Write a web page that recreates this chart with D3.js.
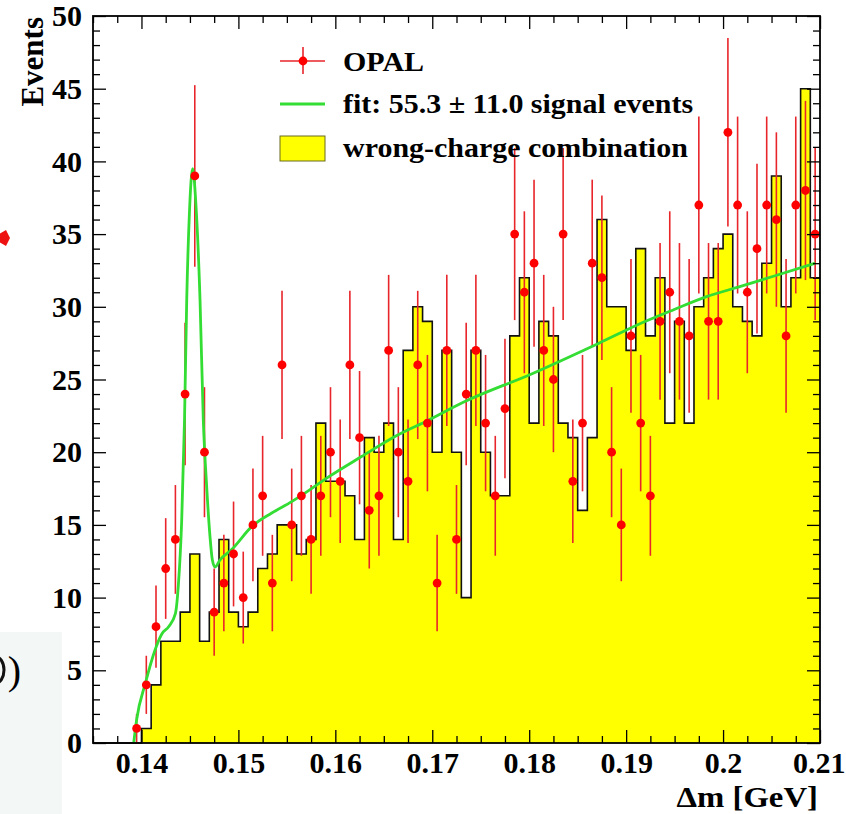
<!DOCTYPE html>
<html lang="en">
<head>
<meta charset="UTF-8">
<title>OPAL delta m</title>
<script src="https://d3js.org/d3.v7.min.js"></script>
<style>
  body { margin: 0; background: white; }
  svg { display: block; overflow: hidden; }
  text { font-family: "Liberation Serif", "Times New Roman", serif; font-weight: bold; fill: black; }
</style>
</head>
<body>
<svg width="846" height="814"></svg>
<script>
// histogram binning (GeV)
const binLow = 0.135, binWidth = 0.001;

// wrong-charge combination, one value per bin
const wrongCharge = [0, 0, 0, 0, 0, 1, 4, 7, 7, 9,
  13, 7, 9, 14, 9, 8, 9, 12, 13, 15,
  15, 13, 14, 22, 18, 18, 17, 14, 21, 20,
  22, 14, 27, 30, 29, 20, 27, 20, 10, 27,
  20, 17, 17, 28, 32, 22, 29, 28, 22, 21,
  16, 21, 36, 30, 30, 27, 34, 28, 32, 22,
  29, 22, 30, 32, 34, 35, 30, 29, 28, 33,
  39, 30, 32, 45, 32];

// OPAL data, one value per bin
const opal = [0, 0, 0, 0, 1, 4, 8, 12, 14, 24,
  39, 20, 9, 11, 13, 10, 15, 17, 11, 26,
  15, 17, 14, 17, 20, 18, 26, 21, 16, 17,
  27, 20, 18, 26, 22, 11, 27, 14, 24, 27,
  22, 17, 23, 35, 31, 33, 27, 25, 35, 18,
  22, 33, 32, 20, 15, 28, 22, 17, 29, 31,
  29, 28, 37, 29, 29, 42, 37, 31, 34, 37,
  36, 28, 37, 38, 35];

// fit curve, points
const fitX = [0.1392, 0.1395, 0.1404, 0.1414, 0.1421, 0.1428, 0.1435, 0.1438, 0.14415, 0.14444,
  0.14467, 0.14495, 0.14528, 0.14562, 0.14604, 0.14638, 0.14673, 0.14707, 0.14731, 0.14759,
  0.14811, 0.1493, 0.1514, 0.1534, 0.1555, 0.1569, 0.1593, 0.1627, 0.1662, 0.1696,
  0.1731, 0.1803, 0.1872, 0.1920, 0.1949, 0.1983, 0.2018, 0.2052, 0.2095];
const fitY = [0, 1.6, 4.1, 6.4, 7.5, 8.0, 8.9, 10.8, 15.3, 22.2,
  30.5, 36.5, 39.5, 37.0, 30.5, 22.2, 17.6, 14.2, 12.6, 12.1,
  12.6, 13.3, 14.9, 15.8, 16.6, 17.2, 18.3, 19.7, 21.1, 22.2,
  23.4, 25.4, 27.5, 29.0, 29.8, 30.7, 31.4, 32.1, 33.0];

const xTicks = [0.14, 0.15, 0.16, 0.17, 0.18, 0.19, 0.20, 0.21];
const xTickLabels = ["0.14", "0.15", "0.16", "0.17", "0.18", "0.19", "0.2", "0.21"];
const yTicks = [0, 5, 10, 15, 20, 25, 30, 35, 40, 45, 50];

const legendLabels = ["OPAL", "fit: 55.3 \u00b1 11.0 signal events", "wrong-charge combination"];

const svg = d3.select("svg");
const plotL = 93, plotR = 820, plotT = 16, plotB = 743;

const x = d3.scaleLinear().domain([0.135, 0.21]).range([plotL, plotR]);
const y = d3.scaleLinear().domain([0, 50]).range([plotB, plotT]);

// slide leftovers around the plot
svg.append("rect").attr("x", 0).attr("y", 632).attr("width", 62).attr("height", 182)
  .attr("fill", "#f3f7f5");
svg.append("ellipse").attr("cx", -5).attr("cy", 670).attr("rx", 9).attr("ry", 13.5)
  .attr("fill", "none").attr("stroke", "#111").attr("stroke-width", 3);
svg.append("text").attr("x", 21).attr("y", 684).attr("text-anchor", "end")
  .style("font-weight", "normal").style("font-size", "40px").text(")");
svg.append("path").attr("d", "M-8,238 L6,230 L10,238 L6,246 Z").attr("fill", "#ee1111");

// histogram
const bins = wrongCharge.map((v, i) => ({ lo: binLow + i * binWidth, v: v }));
const steps = bins.concat([{ lo: binLow + bins.length * binWidth, v: wrongCharge[wrongCharge.length - 1] }]);

svg.append("path")
  .datum(steps)
  .attr("fill", "#ffff00")
  .attr("d", d3.area().curve(d3.curveStepAfter).x(d => x(d.lo)).y0(y(0)).y1(d => y(d.v)));

svg.append("path")
  .datum(steps)
  .attr("fill", "none")
  .attr("stroke", "#111")
  .attr("stroke-width", 1.6)
  .attr("d", d3.line().curve(d3.curveStepAfter).x(d => x(d.lo)).y(d => y(d.v)));

// data points with sqrt(N) errors
const pts = opal.map((v, i) => ({ c: binLow + (i + 0.5) * binWidth, v: v })).filter(d => d.v > 0);

svg.append("g").selectAll("line")
  .data(pts).join("line")
  .attr("x1", d => x(d.c)).attr("x2", d => x(d.c))
  .attr("y1", d => y(d.v + Math.sqrt(d.v))).attr("y2", d => y(Math.max(0, d.v - Math.sqrt(d.v))))
  .attr("stroke", "#e8252a").attr("stroke-width", 1.6);

// fit
svg.append("path")
  .datum(fitX.map((v, i) => [v, fitY[i]]))
  .attr("fill", "none")
  .attr("stroke", "#33dd33")
  .attr("stroke-width", 2.8)
  .attr("d", d3.line().curve(d3.curveMonotoneX).x(d => x(d[0])).y(d => y(d[1])));

svg.append("g").selectAll("circle")
  .data(pts).join("circle")
  .attr("cx", d => x(d.c)).attr("cy", d => y(d.v))
  .attr("r", 4.4).attr("fill", "#ff0000");

// axes, ticks pointing inward like ROOT
const xMinor = d3.range(0.135, 0.2101, 0.0025).filter(t => !xTicks.some(m => Math.abs(m - t) < 1e-6));
const yMinor = d3.range(0, 51).filter(t => t % 5 !== 0);

function styleAxis(g) {
  g.attr("font-family", null).attr("font-size", null);
  g.select(".domain").remove();
  g.selectAll(".tick line").attr("stroke", "#000").attr("stroke-width", 1.3);
  g.selectAll(".tick text").style("font-size", "30px").attr("fill", "#000");
}

const xAxisG = svg.append("g").attr("transform", `translate(0,${plotB})`)
  .call(d3.axisBottom(x).tickValues(xTicks).tickFormat((d, i) => xTickLabels[i]).tickSize(-13).tickPadding(9))
  .call(styleAxis);
// keep the last label inside the page
xAxisG.selectAll(".tick text").filter((d, i) => i === xTicks.length - 1)
  .attr("text-anchor", "end").attr("x", 845 - plotR);

svg.append("g").attr("transform", `translate(0,${plotB})`)
  .call(d3.axisBottom(x).tickValues(xMinor).tickFormat("").tickSize(-7)).call(styleAxis);
svg.append("g").attr("transform", `translate(0,${plotT})`)
  .call(d3.axisTop(x).tickValues(xTicks).tickFormat("").tickSize(-13)).call(styleAxis);
svg.append("g").attr("transform", `translate(0,${plotT})`)
  .call(d3.axisTop(x).tickValues(xMinor).tickFormat("").tickSize(-7)).call(styleAxis);

svg.append("g").attr("transform", `translate(${plotL},0)`)
  .call(d3.axisLeft(y).tickValues(yTicks).tickSize(-13).tickPadding(11))
  .call(styleAxis);
svg.append("g").attr("transform", `translate(${plotL},0)`)
  .call(d3.axisLeft(y).tickValues(yMinor).tickFormat("").tickSize(-7)).call(styleAxis);
svg.append("g").attr("transform", `translate(${plotR},0)`)
  .call(d3.axisRight(y).tickValues(yTicks).tickFormat("").tickSize(-13)).call(styleAxis);
svg.append("g").attr("transform", `translate(${plotR},0)`)
  .call(d3.axisRight(y).tickValues(yMinor).tickFormat("").tickSize(-7)).call(styleAxis);

svg.append("rect")
  .attr("x", plotL).attr("y", plotT).attr("width", plotR - plotL).attr("height", plotB - plotT)
  .attr("fill", "none").attr("stroke", "#000").attr("stroke-width", 1.8);

// axis titles
svg.append("text").attr("transform", "translate(818,807) scale(1.13,1)").attr("text-anchor", "end")
  .style("font-size", "29px").text("\u0394m [GeV]");
svg.append("text").attr("transform", "translate(43,17) rotate(-90)").attr("text-anchor", "end")
  .style("font-size", "31px").text("Events");

// legend
const lg = svg.append("g");
lg.append("line").attr("x1", 280).attr("x2", 325).attr("y1", 61).attr("y2", 61)
  .attr("stroke", "#e8252a").attr("stroke-width", 1.6);
lg.append("line").attr("x1", 303).attr("x2", 303).attr("y1", 47).attr("y2", 74)
  .attr("stroke", "#e8252a").attr("stroke-width", 1.6);
lg.append("circle").attr("cx", 303).attr("cy", 61).attr("r", 4.4).attr("fill", "#ff0000");
lg.append("line").attr("x1", 280).attr("x2", 325).attr("y1", 104).attr("y2", 104)
  .attr("stroke", "#33dd33").attr("stroke-width", 2.8);
lg.append("rect").attr("x", 280).attr("y", 136).attr("width", 45).attr("height", 25)
  .attr("fill", "#ffff00").attr("stroke", "#6b6b20").attr("stroke-width", 1);
lg.selectAll("text.leg").data(legendLabels).join("text")
  .attr("class", "leg")
  .attr("transform", (d, i) => `translate(343,${[71, 113, 157][i]}) scale(1.11,1)`)
  .style("font-size", "27px").text(d => d);
</script>
</body>
</html>
